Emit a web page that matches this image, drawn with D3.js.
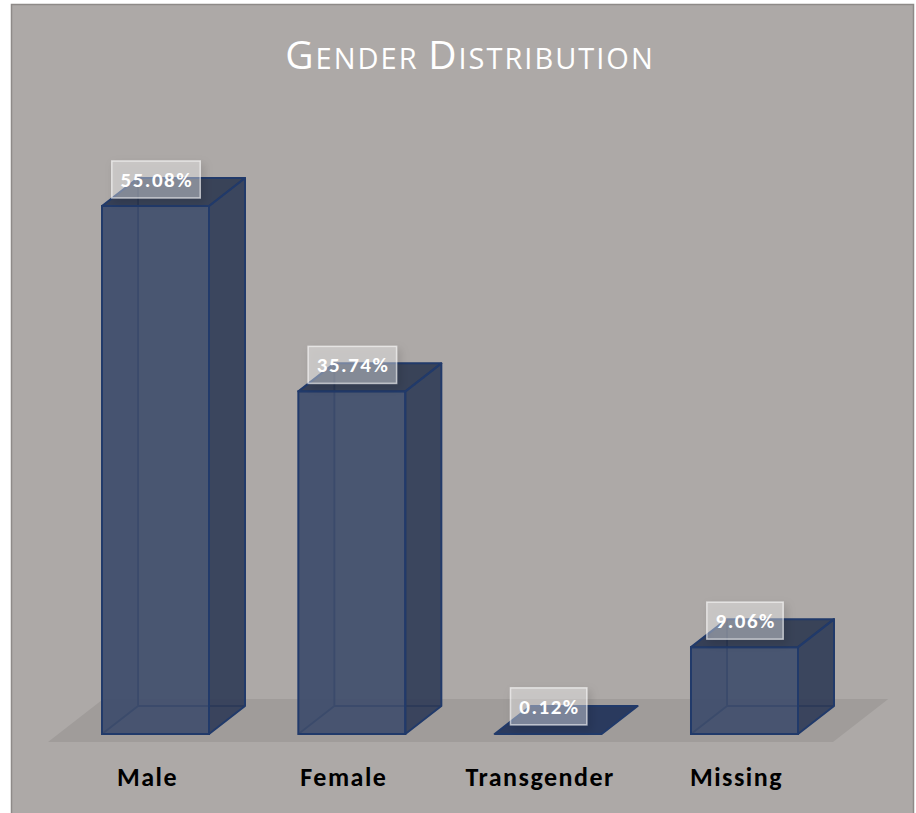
<!DOCTYPE html>
<html>
<head>
<meta charset="utf-8">
<script src="https://cdn.jsdelivr.net/npm/d3@7"></script>
<style>
  body { margin: 0; background: #ffffff; }
  svg { display: block; }
</style>
</head>
<body>
<div id="chart"></div>
<script>
var svgWidth = 916;
var svgHeight = 813;

// data
var categories = ["Male", "Female", "Transgender", "Missing"];
var percents = [55.08, 35.74, 0.12, 9.06];
var labels = ["55.08%", "35.74%", "0.12%", "9.06%"];

var depthX = 36;
var depthY = 28;
var fontStack = "Carlito, Lato, 'Open Sans', sans-serif";

var svg = d3.select("#chart")
  .append("svg")
  .attr("width", svgWidth)
  .attr("height", svgHeight);

var defs = svg.append("defs");
var shadow = defs.append("filter")
  .attr("id", "labelShadow")
  .attr("x", "-30%").attr("y", "-30%")
  .attr("width", "160%").attr("height", "180%");
shadow.append("feDropShadow")
  .attr("dx", 3).attr("dy", 4)
  .attr("stdDeviation", 4)
  .attr("flood-color", "#000")
  .attr("flood-opacity", 0.3);

// chart frame
svg.append("rect")
  .attr("x", 11.5)
  .attr("y", 4.5)
  .attr("width", 902)
  .attr("height", 820)
  .attr("fill", "#ada9a7")
  .attr("stroke", "#8e8a88")
  .attr("stroke-width", 1.5);

// title with small caps look
var title = svg.append("text")
  .attr("x", 470)
  .attr("y", 69)
  .attr("text-anchor", "middle")
  .attr("fill", "#ffffff")
  .attr("letter-spacing", 2)
  .style("font-family", "'Open Sans', sans-serif");
title.append("tspan").attr("font-size", 39).text("G");
title.append("tspan").attr("font-size", 29).text("ENDER ");
title.append("tspan").attr("font-size", 39).text("D");
title.append("tspan").attr("font-size", 29).text("ISTRIBUTION");

var xScale = d3.scaleBand()
  .domain(categories)
  .range([102, 798])
  .paddingInner(0.455)
  .paddingOuter(0);

var yScale = d3.scaleLinear()
  .domain([0, 60])
  .range([734, 158.8]);

var y0 = yScale(0);
var bw = xScale.bandwidth();

// floor
var floorFront = y0 + 8;
var floorBack = y0 - 35;
var floorRatio = depthX / depthY;
var fx0 = xScale.range()[0] - 54;
var fx1 = xScale.range()[1] + 35;
var fdx = (floorFront - floorBack) * floorRatio;
svg.append("path")
  .attr("d", `M${fx0},${floorFront} L${fx1},${floorFront} L${fx1 + fdx},${floorBack} L${fx0 + fdx},${floorBack} Z`)
  .attr("fill", "#a09c9a");

var data = categories.map((c, i) => ({ cat: c, value: percents[i], label: labels[i] }));

var barStroke = "#213a6a";
var bars = svg.append("g").selectAll("g")
  .data(data)
  .enter()
  .append("g");

bars.each(function(d) {
  var g = d3.select(this);
  var x = xScale(d.cat);
  var yt = yScale(d.value);
  var x2 = x + bw;

  if (d.value < 1) {
    // thin slab
    g.append("path")
      .attr("d", `M${x},${y0} L${x2},${y0} L${x2 + depthX},${y0 - depthY} L${x + depthX},${y0 - depthY} Z`)
      .attr("fill", "#2a3a5e")
      .attr("stroke", barStroke)
      .attr("stroke-width", 2)
      .attr("stroke-linejoin", "round");
    return;
  }

  // hidden back edges
  g.append("path")
    .attr("d", `M${x + depthX},${yt - depthY} L${x + depthX},${y0 - depthY} L${x2 + depthX},${y0 - depthY}
               M${x + depthX},${y0 - depthY} L${x},${y0}`)
    .attr("fill", "none")
    .attr("stroke", barStroke)
    .attr("stroke-width", 2);

  // left face (transparent, darkens a strip)
  g.append("path")
    .attr("d", `M${x},${yt} L${x + depthX},${yt - depthY} L${x + depthX},${y0 - depthY} L${x},${y0} Z`)
    .attr("fill", "#3f4a62")
    .attr("opacity", 0.25);

  // front face
  g.append("rect")
    .attr("x", x)
    .attr("y", yt)
    .attr("width", bw)
    .attr("height", y0 - yt)
    .attr("fill", "#3e4c6c")
    .attr("fill-opacity", 0.9)
    .attr("stroke", barStroke)
    .attr("stroke-width", 2);

  // right face
  g.append("path")
    .attr("d", `M${x2},${yt} L${x2 + depthX},${yt - depthY} L${x2 + depthX},${y0 - depthY} L${x2},${y0} Z`)
    .attr("fill", "#2f3b56")
    .attr("fill-opacity", 0.9)
    .attr("stroke", barStroke)
    .attr("stroke-width", 2)
    .attr("stroke-linejoin", "round");

  // top face
  g.append("path")
    .attr("d", `M${x},${yt} L${x2},${yt} L${x2 + depthX},${yt - depthY} L${x + depthX},${yt - depthY} Z`)
    .attr("fill", "#2c3750")
    .attr("fill-opacity", 0.9)
    .attr("stroke", barStroke)
    .attr("stroke-width", 2)
    .attr("stroke-linejoin", "round");
});

// data labels
var labelGroup = svg.append("g").selectAll("g")
  .data(data)
  .enter()
  .append("g")
  .attr("transform", d => `translate(${xScale(d.cat) + bw / 2 + 0.5}, ${yScale(d.value) - depthY + 1.5})`);

var labelText = labelGroup.append("text")
  .attr("text-anchor", "middle")
  .attr("x", 0.75)
  .attr("y", 7.5)
  .attr("fill", "#ffffff")
  .attr("font-weight", "bold")
  .attr("font-size", 21)
  .attr("letter-spacing", 1.5)
  .style("font-family", fontStack)
  .text(d => d.label);

labelText.each(function() {
  var w = this.getBBox().width + 16;
  d3.select(this.parentNode).insert("rect", "text")
    .attr("x", -w / 2)
    .attr("y", -18.5)
    .attr("width", w)
    .attr("height", 37)
    .attr("fill", "rgba(255,255,255,0.35)")
    .attr("stroke", "rgba(255,255,255,0.6)")
    .attr("stroke-width", 1.5)
    .attr("filter", "url(#labelShadow)");
});

// category labels
svg.append("g").selectAll("text")
  .data(categories)
  .enter()
  .append("text")
  .attr("x", d => xScale(d) + bw / 2 - 8)
  .attr("y", 786)
  .attr("text-anchor", "middle")
  .attr("fill", "#000000")
  .attr("font-weight", "bold")
  .attr("font-size", 26)
  .attr("letter-spacing", 1.5)
  .style("font-family", fontStack)
  .text(d => d);
</script>
</body>
</html>
